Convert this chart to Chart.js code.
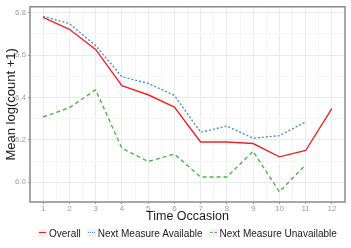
<!DOCTYPE html>
<html>
<head>
<meta charset="utf-8">
<script src="https://cdn.jsdelivr.net/npm/chart.js@4"></script>
<style>
  html, body { margin: 0; padding: 0; background: #fff; }
  #wrap { position: relative; width: 351px; height: 248px; }
  #legend {
    position: absolute; left: 38px; top: 226px; height: 14px;
    display: flex; align-items: center;
    font: 10px 'Liberation Sans', Arial, Helvetica, sans-serif; color: #1a1a1a;
  }
  .item { display: flex; align-items: center; margin-right: 6px; white-space: nowrap; }
  .key { width: 9px; height: 8px; background: #f2f2f2; position: relative; margin-right: 2px; }
  .key i { position: absolute; left: 1px; right: 1px; top: 3px; height: 0; border-top-width: 1.5px; }
</style>
</head>
<body>
<div id="wrap">
  <canvas id="chart" width="351" height="248"></canvas>
  <div id="legend"></div>
</div>
<script>
'use strict';

// ─── Data ─────────────────────────────────────────────────────
const occasions   = [1, 2, 3, 4, 5, 6, 7, 8, 9, 10, 11, 12];
const overall     = [6.778, 6.722, 6.627, 6.456, 6.413, 6.355, 6.190, 6.190, 6.183, 6.120, 6.150, 6.347];
const available   = [6.783, 6.749, 6.645, 6.498, 6.467, 6.410, 6.236, 6.265, 6.208, 6.220, 6.285, null];
const unavailable = [6.308, 6.352, 6.436, 6.161, 6.098, 6.133, 6.025, 6.025, 6.146, 5.955, 6.082, null];
const yTicks      = ['6.0', '6.2', '6.4', '6.6', '6.8'];

const FONT = "'Liberation Sans', Arial, Helvetica, sans-serif";

const series = [
  { label: 'Overall',                  data: overall,     color: '#e8262a', dash: [],     css: 'solid'  },
  { label: 'Next Measure Available',   data: available,   color: '#4a90d0', dash: [2, 2], css: 'dotted' },
  { label: 'Next Measure Unavailable', data: unavailable, color: '#4fb548', dash: [4, 3], css: 'dashed' },
];

const toPoints = arr => occasions.map((x, i) => ({ x, y: arr[i] }));

// panel border like theme_bw
const panelBorder = {
  id: 'panelBorder',
  afterDraw(chart) {
    const { ctx, chartArea: a } = chart;
    ctx.save();
    ctx.strokeStyle = '#8c8c8c';
    ctx.lineWidth = 1.5;
    ctx.strokeRect(a.left, a.top, a.right - a.left, a.bottom - a.top);
    ctx.restore();
  },
};

const isMajorX = v => Number.isInteger(v) && v >= 1 && v <= 12;
const isMajorY = v => yTicks.includes((+v).toFixed(1));

new Chart(document.getElementById('chart').getContext('2d'), {
  type: 'line',
  data: {
    datasets: series.map(s => ({
      label: s.label,
      data: toPoints(s.data),
      borderColor: s.color,
      borderWidth: 1.4,
      borderDash: s.dash,
      pointRadius: 0,
      tension: 0,
    })),
  },
  options: {
    responsive: false,
    animation: false,
    layout: { padding: { top: 5, right: 6, bottom: 24, left: 0 } },
    plugins: {
      legend: { display: false },
      tooltip: { enabled: false },
    },
    scales: {
      x: {
        type: 'linear',
        min: 0.5,
        max: 12.5,
        afterBuildTicks: s => {
          const t = [];
          for (let k = 1; k <= 25; k++) t.push({ value: k / 2 });
          s.ticks = t;
        },
        afterFit: s => { s.height = 22; },
        ticks: {
          autoSkip: false,
          maxRotation: 0,
          padding: 0,
          color: '#a0a0a0',
          font: { family: FONT, size: 8 },
          callback: v => (isMajorX(v) ? String(v) : ''),
        },
        grid: {
          color: c => (isMajorX(c.tick.value) ? '#ebebeb' : '#f5f5f5'),
          tickColor: c => (isMajorX(c.tick.value) ? '#a0a0a0' : 'rgba(0,0,0,0)'),
          tickLength: 2,
          lineWidth: 1,
        },
        border: { display: false },
        title: {
          display: true,
          text: 'Time Occasion',
          color: '#1a1a1a',
          font: { family: FONT, size: 12.5 },
          padding: { top: 0, bottom: 0 },
        },
      },
      y: {
        min: 5.907,
        max: 6.828,
        afterBuildTicks: s => {
          const t = [];
          for (let k = 60; k <= 68; k++) t.push({ value: k / 10 });
          s.ticks = t;
        },
        afterFit: s => { s.width = 30; },
        ticks: {
          autoSkip: false,
          padding: 2,
          color: '#a0a0a0',
          font: { family: FONT, size: 8 },
          callback: v => (isMajorY(v) ? (+v).toFixed(1) : ''),
        },
        grid: {
          color: c => (isMajorY(c.tick.value) ? '#ebebeb' : '#f5f5f5'),
          tickColor: c => (isMajorY(c.tick.value) ? '#a0a0a0' : 'rgba(0,0,0,0)'),
          tickLength: 2,
          lineWidth: 1,
        },
        border: { display: false },
        title: {
          display: true,
          text: 'Mean log(count +1)',
          color: '#1a1a1a',
          font: { family: FONT, size: 13 },
          padding: { top: 4, bottom: 0 },
        },
      },
    },
  },
  plugins: [panelBorder],
});

// ─── Legend (ggplot style keys) ───────────────────────────────
const legendEl = document.getElementById('legend');
series.forEach(s => {
  const item = document.createElement('div');
  item.className = 'item';
  item.innerHTML = `<span class="key"><i style="border-top-style:${s.css};border-top-color:${s.color}"></i></span><span>${s.label}</span>`;
  legendEl.appendChild(item);
});
</script>
</body>
</html>
